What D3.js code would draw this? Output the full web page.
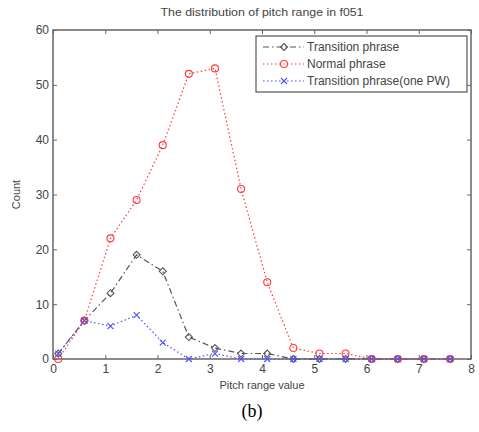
<!DOCTYPE html>
<html>
<head>
<meta charset="utf-8">
<script src="https://cdn.jsdelivr.net/npm/d3@7"></script>
<style>
  body { margin: 0; background: #fff; }
  svg { display: block; font-family: "Liberation Sans", Arial, sans-serif; }
</style>
</head>
<body>
<div id="chart"></div>
<script>
// data
const pitchRange = [0.1, 0.6, 1.1, 1.6, 2.1, 2.6, 3.1, 3.6, 4.1, 4.6, 5.1, 5.6, 6.1, 6.6, 7.1, 7.6];
const transitionPhrase = [1, 7, 12, 19, 16, 4, 2, 1, 1, 0, 0, 0, 0, 0, 0, 0];
const normalPhrase = [0, 7, 22, 29, 39, 52, 53, 31, 14, 2, 1, 1, 0, 0, 0, 0];
const transitionOnePW = [1, 7, 6, 8, 3, 0, 1, 0, 0, 0, 0, 0, 0, 0, 0, 0];
const xTicks = [0, 1, 2, 3, 4, 5, 6, 7, 8];
const yTicks = [0, 10, 20, 30, 40, 50, 60];

const series = [
   { name: 'Transition phrase', values: transitionPhrase, color: '#555', dash: '6,3,1.5,3', marker: 'diamond' },
   { name: 'Normal phrase', values: normalPhrase, color: '#ff3b3b', dash: '1.5,2.5', marker: 'circle' },
   { name: 'Transition phrase(one PW)', values: transitionOnePW, color: '#5050ff', dash: '1.5,2.5', marker: 'cross' },
];

const width = 479, height = 432;
const margin = { top: 30, right: 8, bottom: 73, left: 53 };
const w = width - margin.left - margin.right;
const h = height - margin.top - margin.bottom;

const svg = d3.select('#chart').append('svg')
   .attr('width', width)
   .attr('height', height);

const x = d3.scaleLinear().domain([0, 8]).range([0, w]);
const y = d3.scaleLinear().domain([0, 60]).range([h, 0]);

const g = svg.append('g').attr('transform', `translate(${margin.left},${margin.top})`);

const axisColor = '#666';
const textColor = '#444';

// axes with inward ticks, mirrored on top/right
const styleAxis = (sel) => {
   sel.select('.domain').remove();
   sel.selectAll('line').attr('stroke', axisColor);
   sel.selectAll('text').attr('fill', textColor).style('font-size', '12px');
};

g.append('g').attr('transform', `translate(0,${h})`)
   .call(d3.axisBottom(x).tickValues(xTicks).tickSizeInner(-4).tickSizeOuter(0).tickPadding(5))
   .call(styleAxis);
g.append('g')
   .call(d3.axisLeft(y).tickValues(yTicks).tickSizeInner(-4).tickSizeOuter(0).tickPadding(4))
   .call(styleAxis);
g.append('g')
   .call(d3.axisTop(x).tickValues(xTicks).tickSizeInner(-4).tickSizeOuter(0).tickFormat(''))
   .call(styleAxis);
g.append('g').attr('transform', `translate(${w},0)`)
   .call(d3.axisRight(y).tickValues(yTicks).tickSizeInner(-4).tickSizeOuter(0).tickFormat(''))
   .call(styleAxis);

g.append('rect')
   .attr('width', w).attr('height', h)
   .attr('fill', 'none')
   .attr('stroke', axisColor)
   .attr('stroke-width', 1.5);

// markers
const drawMarker = (sel, type, color) => {
   if (type === 'circle') {
      sel.append('circle').attr('r', 3.5).attr('fill', 'none').attr('stroke', color).attr('stroke-width', 1.1);
   } else if (type === 'diamond') {
      const s = 3.5;
      sel.append('path').attr('d', `M0,${-s}L${s},0L0,${s}L${-s},0Z`)
         .attr('fill', 'none').attr('stroke', color).attr('stroke-width', 1.1);
   } else {
      const s = 3;
      sel.append('path').attr('d', `M${-s},${-s}L${s},${s}M${-s},${s}L${s},${-s}`)
         .attr('fill', 'none').attr('stroke', color).attr('stroke-width', 1.1);
   }
};

const line = d3.line().x((d) => x(d[0])).y((d) => y(d[1]));

series.forEach((s) => {
   const pts = pitchRange.map((p, i) => [p, s.values[i]]);
   g.append('path')
      .datum(pts)
      .attr('d', line)
      .attr('fill', 'none')
      .attr('stroke', s.color)
      .attr('stroke-width', 1.2)
      .attr('stroke-dasharray', s.dash);
   pts.forEach((d) => {
      const m = g.append('g').attr('transform', `translate(${x(d[0])},${y(d[1])})`);
      drawMarker(m, s.marker, s.color);
   });
});

// legend
const legend = svg.append('g').attr('transform', 'translate(256,36)');
legend.append('rect')
   .attr('width', 211).attr('height', 56)
   .attr('fill', '#fff')
   .attr('stroke', '#555')
   .attr('stroke-width', 1.2);
series.forEach((s, i) => {
   const row = legend.append('g').attr('transform', `translate(0,${11 + i * 17})`);
   row.append('line')
      .attr('x1', 7).attr('x2', 48)
      .attr('stroke', s.color).attr('stroke-width', 1.2)
      .attr('stroke-dasharray', s.dash);
   const m = row.append('g').attr('transform', 'translate(28,0)');
   drawMarker(m, s.marker, s.color);
   row.append('text')
      .attr('x', 51).attr('y', 4)
      .attr('fill', textColor)
      .style('font-size', '12px')
      .text(s.name);
});

// titles
svg.append('text')
   .attr('x', margin.left + w / 2).attr('y', 16)
   .attr('text-anchor', 'middle')
   .attr('fill', textColor)
   .attr('textLength', 203)
   .attr('lengthAdjust', 'spacingAndGlyphs')
   .style('font-size', '11px')
   .text('The distribution of pitch range in f051');

svg.append('text')
   .attr('x', margin.left + w / 2).attr('y', 389)
   .attr('text-anchor', 'middle')
   .attr('fill', textColor)
   .style('font-size', '11px')
   .text('Pitch range value');

svg.append('text')
   .attr('transform', `translate(20,${margin.top + h / 2}) rotate(-90)`)
   .attr('text-anchor', 'middle')
   .attr('fill', textColor)
   .style('font-size', '11px')
   .text('Count');

svg.append('text')
   .attr('x', 252).attr('y', 417)
   .attr('text-anchor', 'middle')
   .attr('fill', '#000')
   .style('font-family', '"Liberation Serif", "Times New Roman", serif')
   .style('font-size', '18px')
   .text('(b)');
</script>
</body>
</html>
